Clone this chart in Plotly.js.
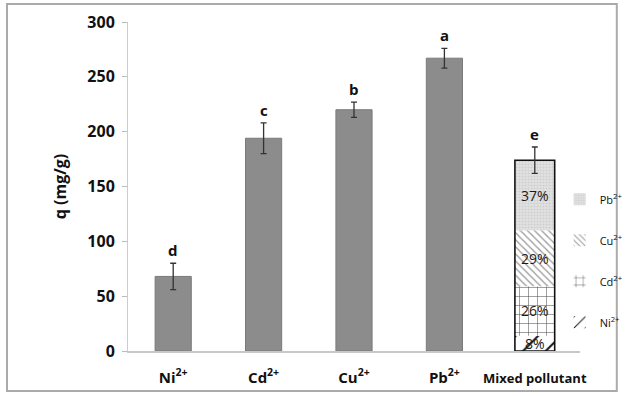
<!DOCTYPE html>
<html>
<head>
<meta charset="utf-8">
<script src="https://cdn.plot.ly/plotly-3.0.1.min.js"></script>
<style>body{margin:0;background:#fff}#chart{width:640px;height:396px}</style>
</head>
<body>
<div id="chart"></div>
<script>
// ---- data ----
var categories = ['Ni', 'Cd', 'Cu', 'Pb', 'Mixed'];
var tickLabels = ['Ni<sup>2+</sup>', 'Cd<sup>2+</sup>', 'Cu<sup>2+</sup>', 'Pb<sup>2+</sup>', '<span style="font-size:13px">Mixed pollutant</span>'];
var singleCats = ['Ni', 'Cd', 'Cu', 'Pb'];
var singleValues = [68, 194, 220, 267];
var singleErrors = [12, 14, 7, 9];
var mixedTotal = 174;
var mixedError = 12;
var letters = ['d', 'c', 'b', 'a', 'e'];
var mixNames = ['Ni<sup>2+</sup>', 'Cd<sup>2+</sup>', 'Cu<sup>2+</sup>', 'Pb<sup>2+</sup>'];
var mixValues = [14, 45, 51, 64];
var mixPercents = ['8%', '26%', '29%', '37%'];

// ---- styles ----
var patterns = [
  {shape: '/', fgcolor: '#111', bgcolor: '#fff', size: 16, solidity: 0.12},
  {shape: '+', fgcolor: '#555', bgcolor: '#fff', size: 9, solidity: 0.12},
  {shape: '\\', fgcolor: '#999', bgcolor: '#fff', size: 5, solidity: 0.25},
  {shape: '.', fgcolor: '#cfcfcf', bgcolor: '#e2e2e2', size: 3, solidity: 0.4}
];
var font = 'Open Sans, sans-serif';

var traces = [];
traces.push({
  type: 'bar', x: singleCats, y: singleValues, width: 0.4,
  marker: {color: '#8c8c8c', line: {color: '#7a7a7a', width: 1}},
  error_y: {type: 'data', array: singleErrors, color: '#333', thickness: 1.3, width: 3},
  showlegend: false, hoverinfo: 'skip'
});
var base = 0;
for (var i = 0; i < mixValues.length; i++) {
  traces.push({
    type: 'bar', x: ['Mixed'], y: [mixValues[i]], base: [base], width: 0.44,
    name: mixNames[i], legendgroup: 'g' + i, legendrank: 100 - i,
    text: [mixPercents[i]], textposition: 'inside', insidetextanchor: 'middle',
    constraintext: 'none', cliponaxis: false,
    textfont: {family: font, size: 14, color: '#1a1a1a'},
    marker: {color: patterns[i].bgcolor, pattern: patterns[i], line: {width: 0}}
  });
  base += mixValues[i];
}
traces.push({
  type: 'bar', x: ['Mixed'], y: [mixedTotal], width: 0.44,
  marker: {color: 'rgba(0,0,0,0)', line: {color: '#111', width: 1.6}},
  error_y: {type: 'data', array: [mixedError], color: '#333', thickness: 1.3, width: 3},
  showlegend: false, hoverinfo: 'skip'
});

var allValues = singleValues.concat([mixedTotal]);
var allErrors = singleErrors.concat([mixedError]);
var annotations = categories.map(function (c, i) {
  return {x: c, y: allValues[i] + allErrors[i], xref: 'x', yref: 'y', text: letters[i],
    showarrow: false, yanchor: 'bottom', yshift: 1,
    font: {family: font, size: 15, color: '#111', weight: 'bold'}};
});

var layout = {
  width: 640, height: 396,
  margin: {l: 128, r: 45, t: 22, b: 45},
  paper_bgcolor: '#fff', plot_bgcolor: '#fff',
  barmode: 'overlay',
  bargap: 0.6,
  xaxis: {
    categoryorder: 'array', categoryarray: categories,
    tickvals: categories, ticktext: tickLabels,
    showline: true, linecolor: '#c8c8c8', linewidth: 1.5,
    ticks: '', ticklabelstandoff: 12,
    tickfont: {family: font, size: 15, color: '#111', weight: 'bold'},
    showgrid: false, zeroline: false, range: [-0.5, 4.5]
  },
  yaxis: {
    range: [0, 300], dtick: 50,
    showline: true, linecolor: '#cccccc', linewidth: 1,
    ticks: 'outside', ticklen: 5, tickcolor: '#bbb', ticklabelstandoff: 4,
    tickfont: {family: font, size: 16, color: '#111', weight: 'bold'},
    showgrid: false, zeroline: false,
    title: {text: 'q (mg/g)', standoff: 16, font: {family: font, size: 16, color: '#111', weight: 'bold'}}
  },
  legend: {
    x: 0.955, y: 0.505, xanchor: 'left', yanchor: 'top',
    tracegroupgap: 22,
    itemwidth: 30, bgcolor: 'rgba(0,0,0,0)',
    font: {family: font, size: 11, color: '#111'}
  },
  annotations: annotations,
  shapes: [{type: 'rect', xref: 'paper', yref: 'paper',
    x0: -0.2677, x1: 1.0814, y0: -0.1216, y1: 1.0547,
    line: {color: '#aaaaaa', width: 2}, layer: 'below'}],
  showlegend: true
};

Plotly.newPlot('chart', traces, layout, {displayModeBar: false, staticPlot: true});
</script>
</body>
</html>
